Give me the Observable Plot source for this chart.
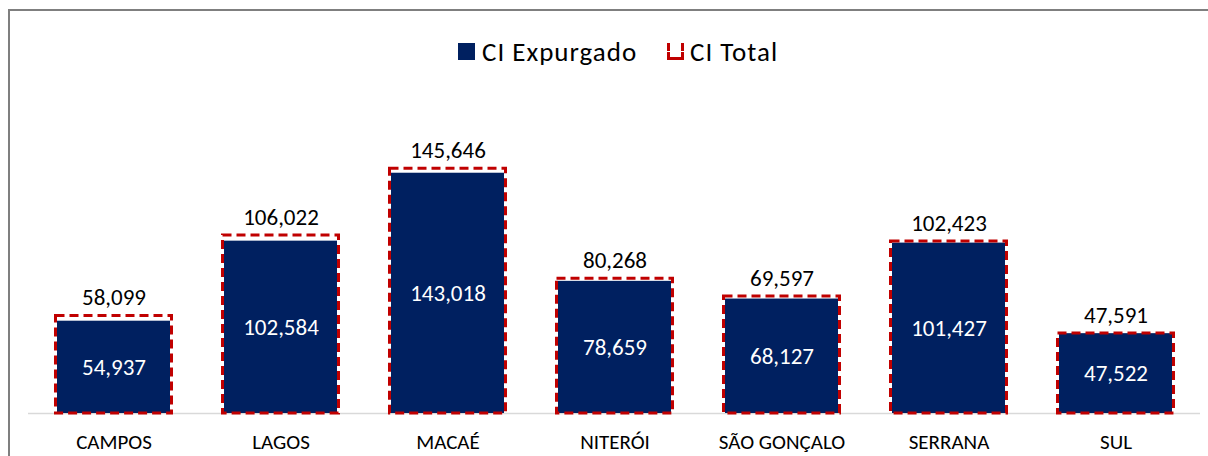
<!DOCTYPE html>
<html>
<head>
<meta charset="utf-8">
<script src="https://cdn.jsdelivr.net/npm/d3@7"></script>
<script src="https://cdn.jsdelivr.net/npm/@observablehq/plot@0.6"></script>
<style>
  html, body { margin: 0; padding: 0; background: #fff; }
  body { width: 1208px; height: 456px; overflow: hidden; position: relative; font-family: Carlito, Calibri, Lato, sans-serif; }
  #frame { position: absolute; left: 8px; top: 9px; width: 1220px; height: 470px; border: 2px solid #7f7f7f; box-sizing: border-box; }
  #chart { position: absolute; left: 0; top: 0; }
  #legend { position: absolute; top: 0; left: 0; width: 1208px; height: 80px; font-size: 27px; letter-spacing: 1px; color: #000; }
  .item { position: absolute; top: 34px; height: 34px; display: flex; align-items: center; white-space: nowrap; }
</style>
</head>
<body>
<div id="frame"></div>
<div id="chart"></div>
<div id="legend"></div>
<script>
const categories = ["CAMPOS", "LAGOS", "MACAÉ", "NITERÓI", "SÃO GONÇALO", "SERRANA", "SUL"];
const ciExpurgado = [54937, 102584, 143018, 78659, 68127, 101427, 47522];
const ciTotal = [58099, 106022, 145646, 80268, 69597, 102423, 47591];
const seriesNames = ["CI Expurgado", "CI Total"];

const navy = "#002060";
const red = "#C00000";
const fmt = d3.format(",");

const rows = categories.map((c, i) => ({cat: c, exp: ciExpurgado[i], tot: ciTotal[i]}));

const chart = Plot.plot({
  width: 1208,
  height: 456,
  marginLeft: 28,
  marginRight: 8,
  marginTop: 161,
  marginBottom: 43,
  style: {fontFamily: "Carlito, Calibri, Lato, sans-serif", fontSize: "21px", color: "#000", background: "transparent"},
  x: {domain: categories, padding: 0, label: null},
  y: {domain: [0, 150000], axis: null},
  marks: [
    Plot.ruleY([0], {stroke: "#d9d9d9", strokeWidth: 1.5}),
    Plot.barY(rows, {x: "cat", y: "exp", fill: navy, insetLeft: 27, insetRight: 27}),
    Plot.barY(rows, {x: "cat", y: "tot", fill: "none", stroke: red, strokeWidth: 3, strokeDasharray: "9,5", insetLeft: 25.5, insetRight: 25.5}),
    Plot.text(rows, {x: "cat", y: "tot", text: d => fmt(d.tot), dy: -18, fill: "#000", fontSize: 23, lineAnchor: "middle"}),
    Plot.text(rows, {x: "cat", y: d => d.exp / 2, text: d => fmt(d.exp), fill: "#fff", fontSize: 23, lineAnchor: "middle"}),
    Plot.axisX({tickSize: 0, tickPadding: 21, fontSize: 21, fill: "#000", label: null})
  ]
});
document.getElementById("chart").appendChild(chart);

const legend = document.getElementById("legend");
legend.innerHTML = `
  <div class="item" style="left:458px"><svg width="17" height="17" style="margin-right:7px"><rect width="17" height="17" fill="${navy}"/></svg>${seriesNames[0]}</div>
  <div class="item" style="left:666px"><svg width="19" height="19" style="margin-right:5px"><path d="M2.5 1 V9 M16.5 1 V9 M1 16.5 H18 M2.5 10 V18 M16.5 10 V18" stroke="${red}" stroke-width="3" fill="none"/></svg>${seriesNames[1]}</div>
`;
</script>
</body>
</html>
